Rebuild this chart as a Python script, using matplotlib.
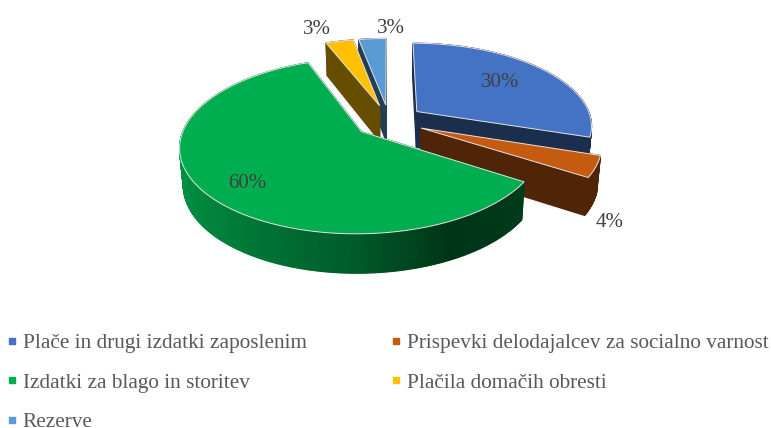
import numpy as np
import matplotlib.pyplot as plt
from matplotlib.lines import Line2D

labels = ['Plače in drugi izdatki zaposlenim', 'Prispevki delodajalcev za socialno varnost',
          'Izdatki za blago in storitev', 'Plačila domačih obresti', 'Rezerve']
values = [30, 4, 60, 3, 3]
colors = ['#4472C4', '#C55A11', '#00AE4F', '#FFC000', '#5B9BD5']

# picture layout, in pixels
X0, Y0 = 389, 121
RX, RY = 175, 82
PERSP = 0.16
EXPLODE = 0.2
TEXT = '#595959'

plt.rcParams['font.family'] = ['Liberation Serif', 'DejaVu Serif']


def project(x, y, bottom=False):
    w = 1 + PERSP * y
    u = RX * x / w
    v = -RY * y / w
    if bottom:
        u = u * 0.982
        v = v + 36 - 3 * y
    return X0 + u, Y0 + v


def shade(col, f):
    rgb = np.array(plt.matplotlib.colors.to_rgb(col))
    return tuple(rgb * f)


def quad(ax, x, y, col):
    # wall between two plane points, from the top face down to the bottom
    tx, ty = project(x, y)
    bx, by = project(x[::-1], y[::-1], bottom=True)
    ax.fill(np.r_[tx, bx], np.r_[ty, by], color=col, lw=0.9)


fig, ax = plt.subplots(figsize=(7.71, 4.28), dpi=100)
ax.set_position([0, 0, 1, 1])
ax.set_xlim(0, 771)
ax.set_ylim(428, 0)
ax.axis('off')

edges = np.cumsum([0] + values) / sum(values) * 2 * np.pi
order = [4, 3, 0, 1, 2]  # back to front

for i in order:
    a0, a1 = edges[i], edges[i + 1]
    mid = (a0 + a1) / 2
    ex, ey = EXPLODE * np.sin(mid), EXPLODE * np.cos(mid)
    t = np.linspace(a0, a1, max(int(values[i] * 6), 8))
    ax_x = ex + np.sin(t)
    ax_y = ey + np.cos(t)

    # walls, farthest first
    walls = []
    for k in (0, -1):
        walls.append((np.array([ex, ax_x[k]]), np.array([ey, ax_y[k]]), shade(colors[i], 0.4)))
    for k in range(len(t) - 1):
        f = 0.4
        if i == 2:  # the big slice has a light gradient along its rim
            f = np.interp(np.sin(t[k]), [-1, -0.5, 0, 0.45, 1], [0.85, 0.68, 0.52, 0.3, 0.36])
        walls.append((ax_x[k:k + 2], ax_y[k:k + 2], shade(colors[i], f)))
    walls.sort(key=lambda w: -w[1].mean())
    for wx, wy, col in walls:
        quad(ax, wx, wy, col)

    tx, ty = project(np.r_[ex, ax_x], np.r_[ey, ax_y])
    ax.fill(tx, ty, facecolor=colors[i], edgecolor='#e4e4e4', lw=0.7, joinstyle='miter')

pct_pos = [(500, 82), (610, 222), (247, 183), (317, 29), (391, 28)]
for v, (px, py) in zip(values, pct_pos):
    ax.text(px, py, f'{v}%', ha='center', va='center', fontsize=15, color='#404040')

handles = [Line2D([], [], ls='', marker='s', ms=4, color=c) for c in colors]
idx = [0, 2, 4, 1, 3]
ax.legend([handles[k] for k in idx], [labels[k] for k in idx], ncol=2, frameon=False,
          loc='upper left', bbox_to_anchor=(0.009, 0.221), borderpad=0, borderaxespad=0,
          fontsize=15.3, labelcolor=TEXT, handlelength=0.5, handletextpad=0.25,
          labelspacing=0.92, columnspacing=3.95)

plt.savefig('out.png', dpi=100)
